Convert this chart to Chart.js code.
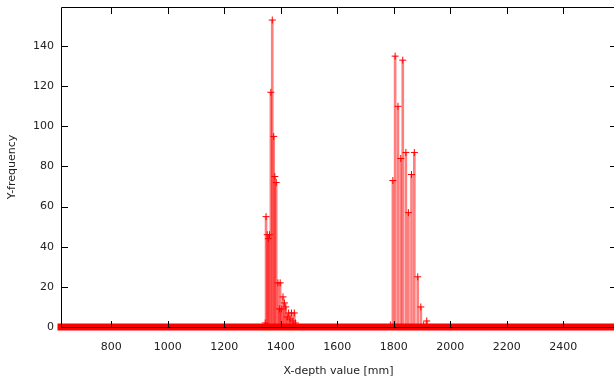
<!DOCTYPE html>
<html><head><meta charset="utf-8">
<script src="https://cdn.jsdelivr.net/npm/chart.js@4.4.1/dist/chart.umd.min.js"></script>
<style>html,body{margin:0;padding:0;overflow:hidden;background:#fff}#wrap{width:616px;height:378px;position:relative}</style>
</head><body><div id="wrap"><canvas id="c"></canvas></div>
<script>
// ---- data ----
const depthMM = [1345,1348,1352,1356,1360,1365,1370,1375,1379,1384,1390,1395,1398,1402,1408,1413,1418,1423,1428,1433,1438,1443,1448,1452,
                 1788,1797,1805,1815,1825,1832,1843,1852,1863,1873,1885,1896,1906,1917];
const frequency = [2,55,46,44,46,117,153,95,75,72,22,9,22,9,15,12,10,5,7,4,7,3,7,2,
                   1,73,135,110,84,133,87,57,76,87,25,10,1,3];
const zeroBinRange = [622, 2587];
const xTickValues = [800,1000,1200,1400,1600,1800,2000,2200,2400];
const yTickValues = [0,20,40,60,80,100,120,140];
const xRange = [622, 2587];
const yRange = [0, 159.5];
const xTitle = 'X-depth value [mm]';
const yTitle = 'Y-frequency';

const points = depthMM.map((d,i)=>({x:d, y:frequency[i]}));
const band = zeroBinRange.map(d=>({x:d, y:0}));

const frame = {
  id:'frame',
  afterDraw(chart){
    const {ctx, chartArea:{left,top,right,bottom}, scales:{x,y}} = chart;
    ctx.save();
    ctx.strokeStyle='#000'; ctx.lineWidth=1;
    ctx.beginPath();
    xTickValues.forEach(v=>{
      const px=Math.round(x.getPixelForValue(v))+0.5;
      ctx.moveTo(px,bottom); ctx.lineTo(px,bottom-6);
      ctx.moveTo(px,top); ctx.lineTo(px,top+7);
    });
    yTickValues.forEach(v=>{
      const py=Math.round(y.getPixelForValue(v))+0.5;
      ctx.moveTo(left,py); ctx.lineTo(left+7,py);
      ctx.moveTo(right,py); ctx.lineTo(right-6,py);
    });
    ctx.stroke();
    ctx.beginPath();
    ctx.rect(left+0.5, top+0.5, right-left-1, Math.round(bottom)-top);
    ctx.stroke();
    ctx.restore();
  }
};

Chart.defaults.font.family = 'DejaVu Sans';
Chart.defaults.font.size = 11;
Chart.defaults.color = '#222';

new Chart(document.getElementById('c'), {
  type:'bar',
  data:{datasets:[
    {type:'scatter', data:points, pointStyle:'cross', pointRadius:3.5, pointBorderWidth:1,
     borderColor:'rgb(255,0,0)', backgroundColor:'rgb(255,0,0)', showLine:false, order:0, clip:false},
    {type:'bar', data:points, backgroundColor:'rgba(255,0,0,0.5)', borderWidth:0, barThickness:2, grouped:false, order:1},
    {type:'line', data:band, borderColor:'rgb(255,0,0)', borderWidth:7, pointRadius:0, borderCapStyle:'square', order:2, clip:false}
  ]},
  options:{
    responsive:true, maintainAspectRatio:false, animation:false, devicePixelRatio:1,
    layout:{autoPadding:false, padding:{top:7,left:0,right:0,bottom:0}},
    plugins:{legend:{display:false}, tooltip:{enabled:false}},
    scales:{
      x:{type:'linear', position:'bottom', min:xRange[0], max:xRange[1], offset:false,
         afterBuildTicks:s=>{s.ticks=xTickValues.map(v=>({value:v}));},
         afterFit:s=>{s.height=51; s.paddingLeft=0; s.paddingRight=0;},
         grid:{display:false, drawTicks:false}, border:{display:false},
         ticks:{padding:14, autoSkip:false, maxRotation:0, callback:v=>String(v)},
         title:{display:true, text:xTitle, padding:{top:0,bottom:0}}},
      y:{type:'linear', min:yRange[0], max:yRange[1],
         afterBuildTicks:s=>{s.ticks=yTickValues.map(v=>({value:v}));},
         afterFit:s=>{s.width=61; s.paddingTop=0; s.paddingBottom=0;},
         grid:{display:false, drawTicks:false}, border:{display:false},
         ticks:{padding:7, callback:v=>String(v)},
         title:{display:true, text:yTitle, padding:{top:6,bottom:0}}}
    }
  },
  plugins:[frame]
});
</script></body></html>
